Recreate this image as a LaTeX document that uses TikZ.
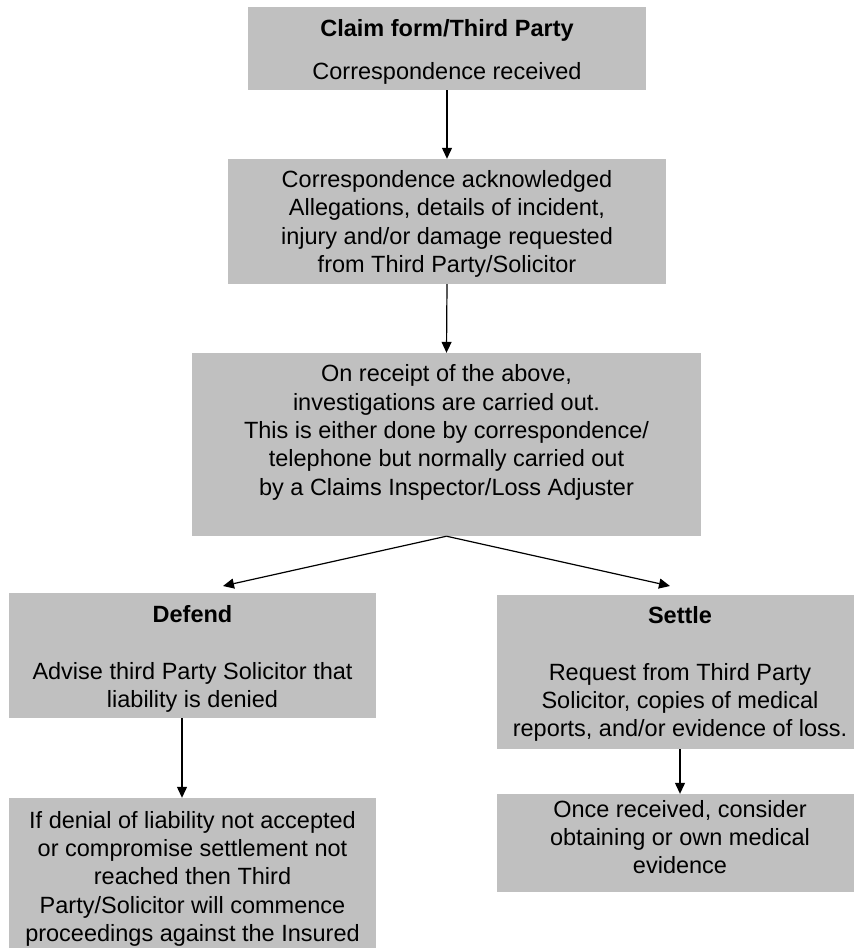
\documentclass[tikz,border=0pt]{standalone}
\usepackage{fontspec}
\setmainfont{Liberation Sans}
\usetikzlibrary{arrows.meta}
\definecolor{boxgray}{HTML}{C0C0C0}
\tikzset{
  box/.style={fill=boxgray, draw=none, inner sep=0pt, anchor=center},
  txt/.style={anchor=north, inner sep=0pt, align=center, font=\fontsize{23.5}{28.3}\selectfont},
  ttl/.style={txt, font=\fontsize{23.5}{28.3}\selectfont\bfseries},
  arr/.style={line width=1.2pt, -{Triangle[length=11pt,width=10pt]}}
}
\begin{document}
\begin{tikzpicture}[x=1pt,y=-1pt]
\useasboundingbox (0,0) rectangle (854,948);
\clip (0,0) rectangle (854,948);
% boxes
\node[box, minimum width=398pt, minimum height=83pt]  (b1) at (447,48.5) {};
\node[box, minimum width=438pt, minimum height=125pt] (b2) at (447,221.5) {};
\node[box, minimum width=509pt, minimum height=183pt] (b3) at (446.5,444.5) {};
\node[box, minimum width=367pt, minimum height=125pt] (b4) at (192.5,655.5) {};
\node[box, minimum width=366pt, minimum height=154pt] (b5) at (680,672) {};
\node[box, minimum width=367pt, minimum height=167pt] (b6) at (192.5,881.5) {};
\node[box, minimum width=366pt, minimum height=98pt]  (b7) at (680,843) {};
% texts
\node[ttl] (t1a) at (447,16.2) {\strut Claim form/Third Party};
\node[txt] (t1b) at (447,59.2) {\strut Correspondence received};
\node[txt] (t2) at (447,167.5) {\strut Correspondence acknowledged\\Allegations, details of incident,\\injury and/or damage requested\\from Third Party/Solicitor};
\node[txt] (t3) at (446.5,361.9) {\strut On receipt of the above,\\investigations are carried out.\\This is either done by correspondence/\\telephone but normally carried out\\by a Claims Inspector/Loss Adjuster};
\node[ttl] (t4a) at (192.5,602.2) {\strut Defend};
\node[txt] (t4b) at (192.5,659.2) {\strut Advise third Party Solicitor that\\liability is denied};
\node[txt] (t6) at (192.5,808.2) {\strut If denial of liability not accepted\\or compromise settlement not\\reached then Third\\Party/Solicitor will commence\\proceedings against the Insured};
\node[ttl] (t5a) at (680,603.2) {\strut Settle};
\node[txt] (t5b) at (680,660.2) {\strut Request from Third Party\\Solicitor, copies of medical\\reports, and/or evidence of loss.};
\node[txt] (t7) at (680,797.2) {\strut Once received, consider\\obtaining or own medical\\evidence};
% connectors
\coordinate (e4) at (223,586);
\coordinate (e5) at (670,586);
\draw[arr] (b1.south) -- (b2.north);
\draw[arr] (b2.south) -- (b3.north);
\draw[arr] (b3.south) -- (e4);
\draw[arr] (b3.south) -- (e5);
\draw[arr] ([xshift=-10.5pt]b4.south) -- ([xshift=-10.5pt]b6.north);
\draw[arr] (b5.south) -- (b7.north);
\end{tikzpicture}
\end{document}
